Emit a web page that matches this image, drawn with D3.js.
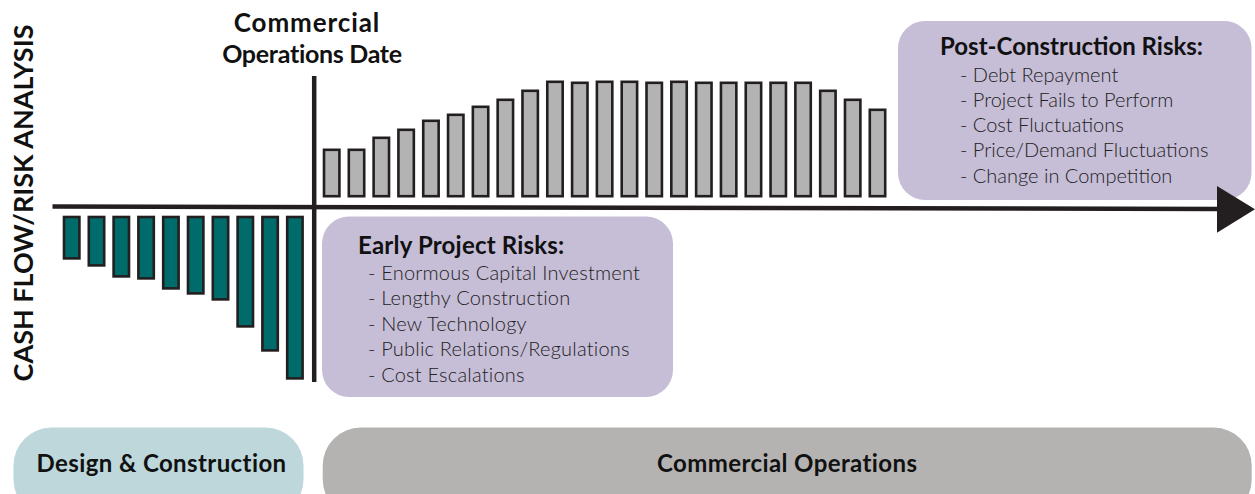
<!DOCTYPE html>
<html>
<head>
<meta charset="utf-8">
<script src="https://cdn.jsdelivr.net/npm/d3@7"></script>
<style>
  body { margin: 0; background: #fff; }
  svg { display: block; }
</style>
</head>
<body>
<div id="chart"></div>
<script>
// cash flow per period, construction phase (negative) then operations (positive)
var constructionFlow = [-4.4, -5.1, -6.2, -6.4, -7.4, -7.9, -8.5, -11.2, -13.6, -16.4];
var operationsFlow = [4.9, 4.9, 6.1, 6.9, 7.8, 8.4, 9.2, 9.9, 10.8, 11.7, 11.6, 11.7,
                      11.7, 11.6, 11.7, 11.6, 11.6, 11.6, 11.6, 11.6, 10.8, 9.9, 8.9];

var earlyRisks = ["Enormous Capital Investment", "Lengthy Construction", "New Technology",
                  "Public Relations/Regulations", "Cost Escalations"];
var postRisks = ["Debt Repayment", "Project Fails to Perform", "Cost Fluctuations",
                 "Price/Demand Fluctuations", "Change in Competition"];
var phases = ["Design & Construction", "Commercial Operations"];

var width = 1255, height = 494;
var font = "Lato, 'Open Sans', sans-serif";
var ink = "#231f20";

var svg = d3.select("#chart")
    .append("svg")
    .attr("width", width)
    .attr("height", height);

// x scales, one per phase
var xNeg = d3.scaleBand()
    .domain(constructionFlow.map((d, i) => i))
    .range([62.7, 303.9])
    .paddingInner(0.274);

var xPos = d3.scaleBand()
    .domain(operationsFlow.map((d, i) => i))
    .range([322.7, 886.5])
    .paddingInner(0.274);

// y scales: bars sit a little off the axis line on either side
var yPos = d3.scaleLinear().domain([0, 12]).range([197.5, 77.5]);
var yNeg = d3.scaleLinear().domain([0, -17]).range([215.7, 385.7]);

var sw = 2.6;

// risk boxes (drawn first, axis runs over them)
function riskBox(x, y, w, h) {
    var g = svg.append("g").attr("transform", "translate(" + x + "," + y + ")");
    g.append("rect")
        .attr("width", w).attr("height", h)
        .attr("rx", 27).attr("ry", 27)
        .attr("fill", "#c6bdd7");
    return g;
}

var early = riskBox(322, 216.5, 351, 180.5);
early.append("text")
    .attr("x", 36).attr("y", 37.5)
    .style("font", "700 24px " + font)
    .style("letter-spacing", "0.2px")
    .attr("fill", "#111")
    .text("Early Project Risks:");
early.selectAll(".item")
    .data(earlyRisks)
    .join("text")
    .attr("class", "item")
    .attr("x", 46)
    .attr("y", (d, i) => 63 + i * 25.5)
    .style("font", "300 20px " + font)
    .style("letter-spacing", "0.2px")
    .attr("fill", "#222")
    .text(d => "- " + d);

var post = riskBox(898, 21, 353.5, 179);
post.append("text")
    .attr("x", 42).attr("y", 34)
    .style("font", "700 24px " + font)
    .attr("fill", "#111")
    .text("Post-Construction Risks:");
post.selectAll(".item")
    .data(postRisks)
    .join("text")
    .attr("class", "item")
    .attr("x", 62)
    .attr("y", (d, i) => 60.5 + i * 25.3)
    .style("font", "300 20px " + font)
    .attr("fill", "#222")
    .text(d => "- " + d);

// bars
svg.append("g").selectAll("rect")
    .data(constructionFlow)
    .join("rect")
    .attr("x", (d, i) => xNeg(i) + sw / 2)
    .attr("y", yNeg(0) + sw / 2)
    .attr("width", xNeg.bandwidth() - sw)
    .attr("height", d => yNeg(d) - yNeg(0) - sw)
    .attr("fill", "#006b6b")
    .attr("stroke", ink)
    .attr("stroke-width", sw);

svg.append("g").selectAll("rect")
    .data(operationsFlow)
    .join("rect")
    .attr("x", (d, i) => xPos(i) + sw / 2)
    .attr("y", d => yPos(d) + sw / 2)
    .attr("width", xPos.bandwidth() - sw)
    .attr("height", d => yPos(0) - yPos(d) - sw)
    .attr("fill", "#b3b3b3")
    .attr("stroke", ink)
    .attr("stroke-width", sw);

// time axis with arrow
svg.append("line")
    .attr("x1", 52.5).attr("y1", 206.5)
    .attr("x2", 1220).attr("y2", 209)
    .attr("stroke", ink)
    .attr("stroke-width", 4.5);
svg.append("path")
    .attr("d", "M1217,186 L1255,209.3 L1217,232.7 Z")
    .attr("fill", ink);

// commercial operations date marker
svg.append("line")
    .attr("x1", 314.2).attr("y1", 76)
    .attr("x2", 314.2).attr("y2", 382)
    .attr("stroke", ink)
    .attr("stroke-width", 4.5);

svg.append("text")
    .attr("x", 307).attr("y", 32)
    .attr("text-anchor", "middle")
    .style("font", "700 26px " + font)
    .style("letter-spacing", "0.9px")
    .attr("fill", "#111")
    .text("Commercial");
svg.append("text")
    .attr("x", 312).attr("y", 63)
    .attr("text-anchor", "middle")
    .style("font", "700 25px " + font)
    .style("letter-spacing", "-0.3px")
    .attr("fill", "#111")
    .text("Operations Date");

// y label
svg.append("text")
    .attr("transform", "translate(33,203) rotate(-90)")
    .attr("text-anchor", "middle")
    .style("font", "700 27px " + font)
    .attr("fill", "#111")
    .text("CASH FLOW/RISK ANALYSIS");

// phase pills along the bottom
var pills = [
    {x: 13.5, w: 290, fill: "#bdd7db"},
    {x: 322.7, w: 929, fill: "#b4b3b2"}
];
svg.append("g").selectAll("rect")
    .data(pills)
    .join("rect")
    .attr("x", d => d.x)
    .attr("y", 427.5)
    .attr("width", d => d.w)
    .attr("height", 90)
    .attr("rx", 38).attr("ry", 38)
    .attr("fill", d => d.fill);

svg.append("g").selectAll("text")
    .data(phases)
    .join("text")
    .attr("x", (d, i) => pills[i].x + pills[i].w / 2 + (i ? 0 : 3))
    .attr("y", 472)
    .attr("text-anchor", "middle")
    .style("font", "700 24px " + font)
    .style("letter-spacing", "0.4px")
    .attr("fill", "#111")
    .text(d => d);
</script>
</body>
</html>
